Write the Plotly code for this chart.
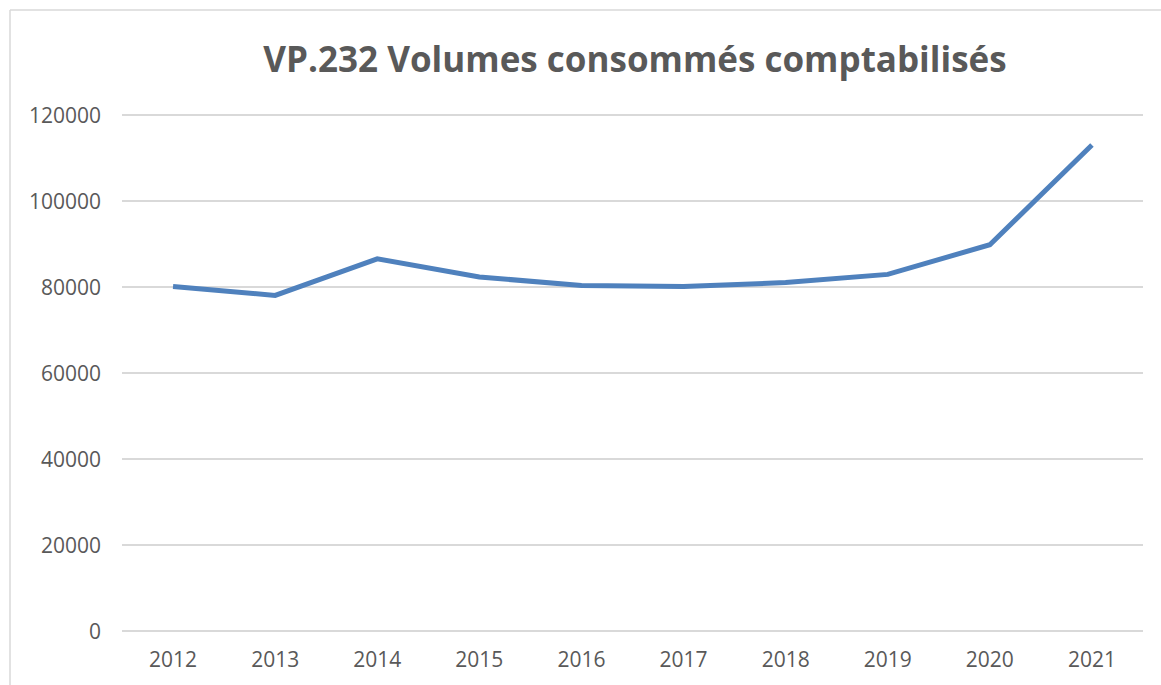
import plotly.graph_objects as go

years = ["2012", "2013", "2014", "2015", "2016", "2017", "2018", "2019", "2020", "2021"]
volumes = [80200, 78100, 86600, 82400, 80400, 80200, 81100, 83000, 89900, 113100]
y_ticks = [0, 20000, 40000, 60000, 80000, 100000, 120000]
title_text = "VP.232 Volumes consommés comptabilisés"

W, H = 1161, 685
ML, MR, MT, MB = 122, 18, 111, 52
pw, ph = W - ML - MR, H - MT - MB

fig = go.Figure()
fig.add_trace(go.Scatter(
    x=years, y=volumes, mode="lines",
    line=dict(color="#4F81BD", width=5),
    hoverinfo="x+y",
))

# outer chart border (cropped at right/bottom)
x0 = (10 - ML) / pw
y1 = 1 + (MT - 10) / ph
fig.add_shape(type="line", xref="paper", yref="paper", x0=x0, x1=x0, y0=-1, y1=y1,
              line=dict(color="#D9D9D9", width=1.5))
fig.add_shape(type="line", xref="paper", yref="paper", x0=x0, x1=2, y0=y1, y1=y1,
              line=dict(color="#D9D9D9", width=1.5))

fig.update_layout(
    width=W, height=H,
    margin=dict(l=ML, r=MR, t=MT, b=MB),
    paper_bgcolor="white", plot_bgcolor="white",
    showlegend=False,
    title=dict(text=title_text, x=(258 + 1012) / 2 / W, xanchor="center",
               y=1 - 60 / H, yanchor="middle",
               font=dict(family="Open Sans", size=35, color="#595959", weight="bold")),
    font=dict(family="Open Sans", size=21, color="#595959"),
    xaxis=dict(type="category", range=[-0.5, 9.5], showgrid=False, showline=False,
               zeroline=False, ticks="", tickfont=dict(size=21, color="#595959"),
               ticklabelstandoff=12),
    yaxis=dict(range=[-400, 121000], tickvals=y_ticks, ticktext=[str(v) for v in y_ticks],
               showgrid=True, gridcolor="#D9D9D9", gridwidth=1.5,
               zeroline=False, showline=False, ticks="",
               tickfont=dict(size=21, color="#595959"), ticklabelstandoff=20),
)

fig.write_html("out.html", config={"displayModeBar": False},
               post_script="document.body.style.margin='0';document.body.style.overflow='hidden';")
